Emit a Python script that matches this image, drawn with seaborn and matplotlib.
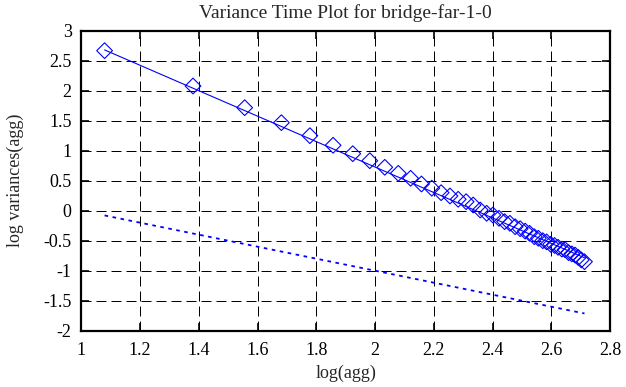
import numpy as np
import pandas as pd
import matplotlib
matplotlib.use("Agg")
import matplotlib.pyplot as plt
import seaborn as sns

# log10 do nivel de agregacao (12, 24, 36, ... ) e log da variancia
log_agg = [1.079, 1.380, 1.556, 1.681, 1.778, 1.857, 1.924, 1.982, 2.033, 2.079,
           2.121, 2.158, 2.193, 2.225, 2.255, 2.283, 2.310, 2.334, 2.358, 2.380,
           2.401, 2.422, 2.441, 2.459, 2.477, 2.494, 2.511, 2.526, 2.542, 2.556,
           2.571, 2.584, 2.598, 2.611, 2.623, 2.636, 2.647, 2.659, 2.670, 2.681,
           2.692, 2.702, 2.713]
log_var = [2.667, 2.078, 1.717, 1.467, 1.250, 1.090, 0.950, 0.833, 0.723, 0.623,
           0.540, 0.445, 0.375, 0.300, 0.245, 0.190, 0.150, 0.095, 0.012, -0.043,
           -0.072, -0.127, -0.183, -0.210, -0.267, -0.300, -0.340, -0.377, -0.433, -0.460,
           -0.500, -0.520, -0.560, -0.580, -0.610, -0.640, -0.650, -0.700, -0.720, -0.740,
           -0.780, -0.820, -0.850]

# reta ajustada e reta de referencia (inclinacao -1)
fit_slope = -2.12
fit_intercept = 4.967
ref_slope = -1.0
ref_intercept = 1.0

x_ticks = [1, 1.2, 1.4, 1.6, 1.8, 2, 2.2, 2.4, 2.6, 2.8]
y_ticks = [-2, -1.5, -1, -0.5, 0, 0.5, 1, 1.5, 2, 2.5, 3]

df = pd.DataFrame({"log_agg": log_agg, "log_var": log_var})
df["fit"] = fit_slope * df["log_agg"] + fit_intercept
df["ref"] = ref_slope * df["log_agg"] + ref_intercept

sns.set_style("ticks")
plt.rcParams["font.family"] = ["Liberation Serif", "DejaVu Serif"]

fig = plt.figure(figsize=(6.26, 3.87), dpi=100)
ax = fig.add_axes([0.130, 0.1455, 0.8445, 0.7752])

sns.lineplot(data=df, x="log_agg", y="ref", ax=ax, color="blue",
             linewidth=1.3, linestyle=(0, (2, 2.5)), zorder=3)
sns.scatterplot(data=df, x="log_agg", y="log_var", ax=ax, marker="D", s=64,
                facecolors="none", edgecolors="blue", linewidths=0.8, zorder=4)
sns.lineplot(data=df, x="log_agg", y="fit", ax=ax, color="blue",
             linewidth=0.8, zorder=5)

ax.set_xlim(1, 2.8)
ax.set_ylim(-2, 3)
ax.set_xticks(x_ticks)
ax.set_xticklabels([f"{t:g}" for t in x_ticks])
ax.set_yticks(y_ticks)
ax.set_yticklabels([f"{t:g}" for t in y_ticks])
ax.tick_params(direction="in", length=6, width=1.2, top=True, right=True,
               labelsize=13, colors="black")
ax.tick_params(axis="x", pad=8)
ax.tick_params(axis="y", pad=7)
ax.grid(True, color="black", linestyle=(0, (10, 5)), linewidth=0.72)
for s in ax.spines.values():
    s.set_linewidth(1.6)
    s.set_color("black")

ax.set_title("Variance Time Plot for bridge-far-1-0", fontsize=14, pad=9)
ax.set_xlabel("log(agg)", fontsize=13, labelpad=4)
ax.set_ylabel("log variances(agg)", fontsize=13, labelpad=14)

fig.savefig("out.png", dpi=100)
